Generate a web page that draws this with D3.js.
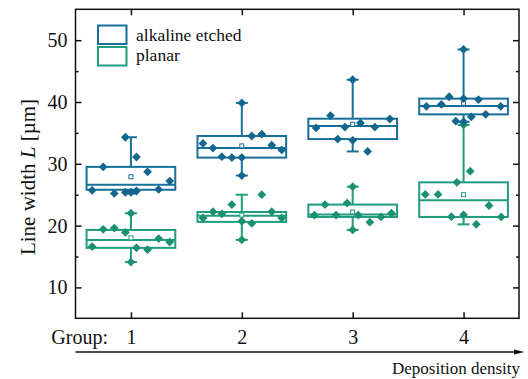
<!DOCTYPE html>
<html>
<head>
<meta charset="utf-8">
<script src="https://cdn.jsdelivr.net/npm/d3@7/dist/d3.min.js"></script>
<style>
  html, body { margin: 0; padding: 0; background: #fff; }
  svg { display: block; }
  svg text { font-family: "Liberation Serif", "Times New Roman", serif !important; fill: #111; }
</style>
</head>
<body>
<svg id="chart" width="528" height="379"></svg>
<script>
// ---------------- data ----------------
const groups = [1, 2, 3, 4];
const seriesNames = ["alkaline etched", "planar"];
const yTicks = [10, 20, 30, 40, 50];
const yMinorTicks = [15, 25, 35, 45];

// individual measurements per group (values in µm)
const alkalineValues = [
  [25.7, 29.5, 25.2, 34.3, 25.4, 25.4, 31.1, 25.6, 28.7, 25.85, 27.2],
  [33.3, 32.55, 31.15, 31.0, 39.85, 31.0, 28.1, 34.5, 34.8, 33.0, 32.25],
  [35.8, 37.8, 34.0, 35.95, 43.6, 33.8, 36.6, 32.0, 35.95, 37.25],
  [39.3, 39.6, 40.85, 36.9, 48.5, 40.55, 36.8, 37.6, 40.4, 38.0, 39.3]
];
// horizontal jitter of each point, in group units
const alkalineJitter = [
  [-0.35, -0.25, -0.15, -0.05, -0.05, 0, 0.05, 0.05, 0.15, 0.25, 0.35],
  [-0.35, -0.26, -0.18, -0.09, 0, 0, 0, 0.09, 0.18, 0.27, 0.36],
  [-0.33, -0.2, -0.135, -0.07, 0, 0, 0.07, 0.135, 0.2, 0.335],
  [-0.335, -0.2, -0.13, -0.07, 0, 0, 0, 0.07, 0.135, 0.2, 0.335]
];
const planarValues = [
  [16.6, 19.4, 19.6, 18.9, 22.0, 14.1, 16.4, 16.1, 17.9, 17.35],
  [21.25, 22.25, 21.9, 23.4, 20.7, 17.7, 20.35, 25.0, 22.25, 21.25],
  [21.7, 23.4, 21.7, 23.65, 26.3, 19.3, 21.7, 20.55, 21.4, 22.0],
  [25.05, 25.05, 21.45, 27.0, 21.75, 36.3, 28.8, 20.2, 23.25, 21.4]
];
const planarJitter = [
  [-0.35, -0.25, -0.15, -0.05, 0, 0, 0.05, 0.15, 0.25, 0.35],
  [-0.35, -0.26, -0.18, -0.09, 0, 0, 0.09, 0.18, 0.27, 0.36],
  [-0.345, -0.25, -0.15, -0.05, 0, 0, 0.05, 0.155, 0.255, 0.35],
  [-0.345, -0.23, -0.11, -0.06, 0, 0, 0.06, 0.115, 0.23, 0.34]
];

// box statistics as drawn
const alkalineQ1     = [25.8, 31.0, 34.0, 38.0];
const alkalineMedian = [26.6, 32.55, 36.1, 39.35];
const alkalineQ3     = [29.5, 34.5, 37.3, 40.55];
const alkalineMean   = [27.9, 32.9, 36.4, 39.8];
const planarQ1     = [16.4, 20.6, 21.4, 21.4];
const planarMedian = [17.65, 21.6, 21.8, 24.1];
const planarQ3     = [19.3, 22.2, 23.4, 27.0];
const planarMean   = [18.0, 21.7, 22.2, 25.0];

// ---------------- chart ----------------
const FONT = '"Liberation Serif", "Times New Roman", serif';
const colors = { "alkaline etched": "#17709a", "planar": "#1f9d7d" };

const series = [
  { name: "planar", values: planarValues, jitter: planarJitter, q1: planarQ1, med: planarMedian, q3: planarQ3, mean: planarMean },
  { name: "alkaline etched", values: alkalineValues, jitter: alkalineJitter, q1: alkalineQ1, med: alkalineMedian, q3: alkalineQ3, mean: alkalineMean }
];

const L = 75.5, R = 519, T = 9.3, B = 318.3;
const svg = d3.select("#chart");
const x = d3.scaleLinear().domain([0.5, 4.5]).range([L, R]);
const y = d3.scaleLinear().domain([5, 55]).range([B, T]);

const boxHalf = 0.4;      // group units
const capHalf = 6;        // px
const dia = 4.4;          // diamond half-diagonal px

const plot = svg.append("g");

series.forEach(s => {
  const col = colors[s.name];
  groups.forEach((g, i) => {
    const gg = plot.append("g");
    const [lo, hi] = d3.extent(s.values[i]);
    // whiskers
    gg.append("line").attr("x1", x(g)).attr("x2", x(g)).attr("y1", y(s.q3[i])).attr("y2", y(hi))
      .attr("stroke", col).attr("stroke-width", 2);
    gg.append("line").attr("x1", x(g)).attr("x2", x(g)).attr("y1", y(s.q1[i])).attr("y2", y(lo))
      .attr("stroke", col).attr("stroke-width", 2);
    [lo, hi].forEach(v => {
      gg.append("line").attr("x1", x(g) - capHalf).attr("x2", x(g) + capHalf)
        .attr("y1", y(v)).attr("y2", y(v)).attr("stroke", col).attr("stroke-width", 2);
    });
    // box
    gg.append("rect")
      .attr("x", x(g - boxHalf)).attr("width", x(g + boxHalf) - x(g - boxHalf))
      .attr("y", y(s.q3[i])).attr("height", y(s.q1[i]) - y(s.q3[i]))
      .attr("fill", "none").attr("stroke", col).attr("stroke-width", 2);
    gg.append("line").attr("x1", x(g - boxHalf)).attr("x2", x(g + boxHalf))
      .attr("y1", y(s.med[i])).attr("y2", y(s.med[i])).attr("stroke", col).attr("stroke-width", 2);
    // mean
    gg.append("rect").attr("x", x(g) - 2).attr("y", y(s.mean[i]) - 2).attr("width", 4).attr("height", 4)
      .attr("fill", "#fff").attr("stroke", col).attr("stroke-width", 1);
    // points
    gg.selectAll("path.pt").data(s.values[i].map((v, k) => ({ v, j: s.jitter[i][k] })))
      .join("path").attr("class", "pt")
      .attr("d", d => {
        const cx = x(g + d.j), cy = y(d.v);
        return `M${cx},${cy - dia}L${cx + dia},${cy}L${cx},${cy + dia}L${cx - dia},${cy}Z`;
      })
      .attr("fill", d3.color(col).darker(0.25)).attr("stroke", "none");
  });
});

// axes
const axG = svg.append("g");
axG.append("g").attr("transform", `translate(${L},0)`)
  .call(d3.axisLeft(y).tickValues(yTicks).tickSize(-6).tickPadding(8))
  .call(g => g.select(".domain").remove())
  .call(g => g.selectAll("text").style("font-size", "20px"));
axG.append("g").attr("transform", `translate(${L},0)`)
  .call(d3.axisLeft(y).tickValues(yMinorTicks).tickSize(-3).tickFormat(""))
  .call(g => g.select(".domain").remove());
axG.append("g").attr("transform", `translate(${R},0)`)
  .call(d3.axisRight(y).tickValues(yTicks).tickSize(-6).tickFormat(""))
  .call(g => g.select(".domain").remove());
axG.append("g").attr("transform", `translate(${R},0)`)
  .call(d3.axisRight(y).tickValues(yMinorTicks).tickSize(-3).tickFormat(""))
  .call(g => g.select(".domain").remove());
axG.append("g").attr("transform", `translate(0,${T})`)
  .call(d3.axisTop(x).tickValues(groups).tickSize(-6).tickFormat(""))
  .call(g => g.select(".domain").remove());
axG.append("g").attr("transform", `translate(0,${B})`)
  .call(d3.axisBottom(x).tickValues(groups).tickSize(-6).tickPadding(11.5).tickFormat(d3.format("d")))
  .call(g => g.select(".domain").remove())
  .call(g => g.selectAll("text").style("font-size", "20px"));
axG.selectAll("g").attr("font-family", FONT);
axG.selectAll(".tick line").attr("stroke", "#111").attr("stroke-width", 1.5);

// frame
svg.append("rect").attr("x", L).attr("y", T).attr("width", R - L).attr("height", B - T)
  .attr("fill", "none").attr("stroke", "#111").attr("stroke-width", 1.5);

// y label
const yl = svg.append("text").attr("transform", "translate(35,177) rotate(-90)")
  .attr("text-anchor", "middle").style("font-size", "21px").style("font-family", FONT);
yl.append("tspan").text("Line width ");
yl.append("tspan").attr("font-style", "italic").text("L");
yl.append("tspan").text(" [µm]");

// group label
svg.append("text").attr("x", 108).attr("y", 344).attr("text-anchor", "end")
  .style("font-size", "20px").style("font-family", FONT).text("Group:");

// arrow
svg.append("line").attr("x1", L).attr("x2", 515).attr("y1", 352).attr("y2", 352)
  .attr("stroke", "#111").attr("stroke-width", 1.5);
svg.append("path").attr("d", "M514,349.6L524.5,352L514,354.4Z").attr("fill", "#111");
svg.append("text").attr("x", 520).attr("y", 374).attr("text-anchor", "end")
  .style("font-size", "17px").style("font-family", FONT).text("Deposition density");

// legend
const leg = svg.append("g");
[["alkaline etched", 25.5, 41.3], ["planar", 47, 61]].forEach(([name, ry, ty]) => {
  leg.append("rect").attr("x", 98).attr("y", ry).attr("width", 28.5).attr("height", 18.5)
    .attr("fill", "none").attr("stroke", colors[name]).attr("stroke-width", 2);
  leg.append("text").attr("x", 136).attr("y", ty)
    .style("font-size", "17.5px").style("font-family", FONT).text(name);
});
</script>
</body>
</html>
